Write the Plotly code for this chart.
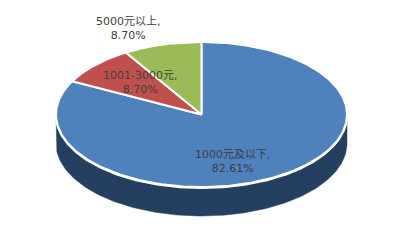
import numpy as np
import plotly.graph_objects as go

categories = ["1000元及以下", "1001-3000元", "5000元以上"]
percents = [82.61, 8.70, 8.70]
top_colors = ["#4f81bd", "#c0504d", "#9bbb59"]
side_colors = ["#243f60", "#7f2c2a", "#5f7530"]

W, H = 397, 240
cx, cy, rx, ry, depth = 201.5, 114.5, 145.5, 72.5, 29

def pt(theta_deg, dy=0.0):
    t = np.radians(theta_deg)
    return cx + rx * np.sin(t), cy - ry * np.cos(t) + dy

fig = go.Figure()

total = sum(percents)
starts, ends = [], []
acc = 0.0
for p in percents:
    starts.append(acc / total * 360)
    acc += p
    ends.append(acc / total * 360)

# side faces (front half: 90..270 deg)
for s, e, col in zip(starts, ends, side_colors):
    a, b = max(s, 90), min(e, 270)
    if b <= a:
        continue
    th = np.linspace(a, b, 200)
    xt, yt = pt(th)
    xb, yb = pt(th[::-1], depth)
    xs = np.concatenate([xt, xb, xt[:1]])
    ys = np.concatenate([yt, yb, yt[:1]])
    fig.add_trace(go.Scatter(x=xs, y=ys, fill="toself", fillcolor=col, mode="lines",
                             line=dict(color=col, width=0.5), hoverinfo="skip", showlegend=False))

# white rim line between top and side
th = np.linspace(90, 270, 300)
xr, yr = pt(th)
fig.add_trace(go.Scatter(x=xr, y=yr + 1, mode="lines", line=dict(color="white", width=2),
                         hoverinfo="skip", showlegend=False))

# top faces
for s, e, col in zip(starts, ends, top_colors):
    th = np.linspace(s, e, 300)
    xt, yt = pt(th)
    xs = np.concatenate([[cx], xt, [cx]])
    ys = np.concatenate([[cy], yt, [cy]])
    fig.add_trace(go.Scatter(x=xs, y=ys, fill="toself", fillcolor=col, mode="lines",
                             line=dict(color="white", width=2), hoverinfo="skip", showlegend=False))

label_pos = [(233, 161), (140, 82), (128, 28)]
for cat, p, (lx, ly) in zip(categories, percents, label_pos):
    fig.add_annotation(x=lx, y=ly, text=f"{cat},<br>{p:.2f}%", showarrow=False,
                       font=dict(family="DejaVu Sans, Noto Sans CJK SC", size=11, color="#404040"),
                       align="center")

fig.update_layout(width=W, height=H, margin=dict(l=0, r=0, t=0, b=0),
                  paper_bgcolor="white", plot_bgcolor="white",
                  xaxis=dict(range=[0, W], visible=False, fixedrange=True),
                  yaxis=dict(range=[H, 0], visible=False, fixedrange=True))
fig.write_html("out.html")
